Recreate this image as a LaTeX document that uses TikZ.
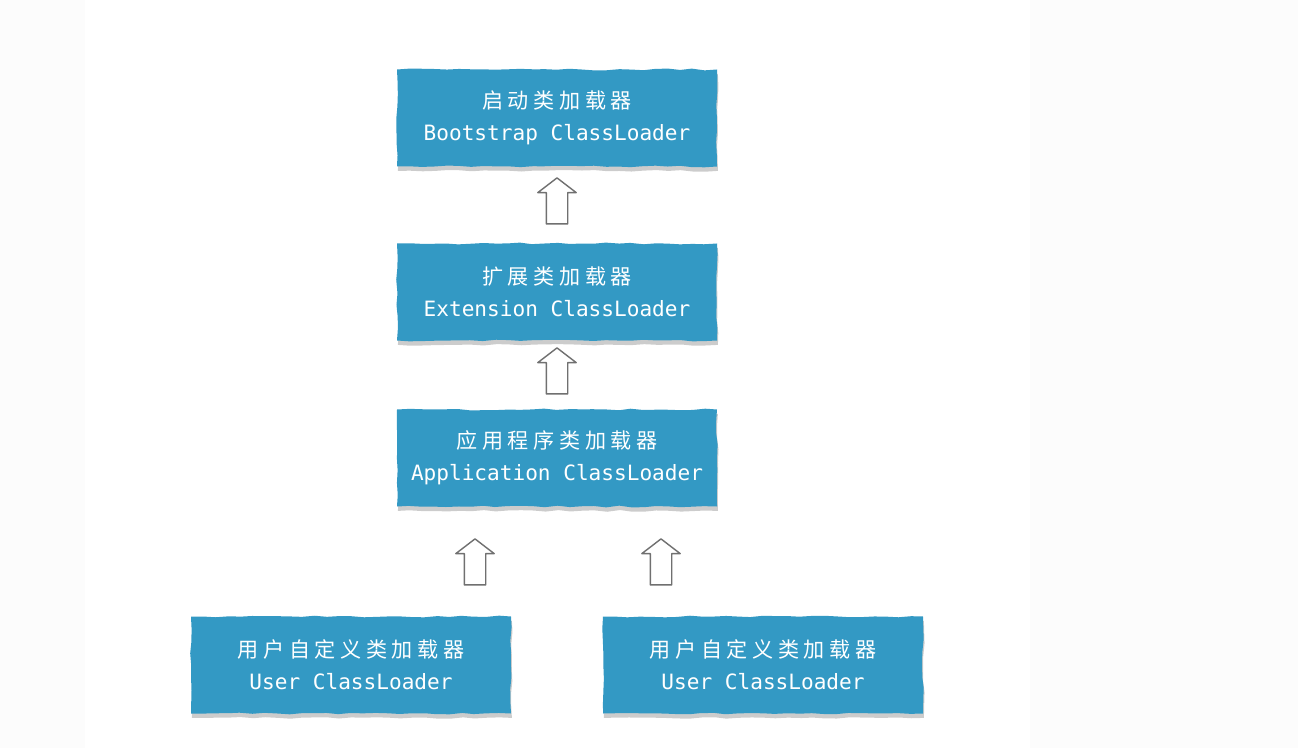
\documentclass[tikz,border=0pt]{standalone}
\usepackage{fontspec}
\setmainfont{DejaVu Sans Mono}
\newfontfamily\cjk[LetterSpace=22]{Noto Sans CJK SC}
\usepackage{tikz}
\usetikzlibrary{shapes.arrows, shadows, decorations.pathmorphing, calc}

\definecolor{loaderblue}{HTML}{3399C4}
\definecolor{arrowgray}{HTML}{707070}
\definecolor{pagegray}{HTML}{FCFCFC}

\tikzset{
  loader/.style={fill=loaderblue, text=white, align=center,
    minimum width=6.4cm, minimum height=1.94cm,
    font=\fontsize{12pt}{18pt}\selectfont,
    decorate, decoration={random steps, segment length=7pt, amplitude=0.5pt},
    drop shadow={shadow xshift=0.5pt, shadow yshift=-2.5pt, opacity=0.2, fill=black}},
  uparrow/.style={single arrow, draw=arrowgray, fill=white, thick, line join=round,
    shape border rotate=90, inner sep=0.2cm,
    minimum height=0.92cm, minimum width=0.74cm,
    single arrow head extend=0.17cm, single arrow tip angle=105},
}

\begin{document}
\begin{tikzpicture}
    \pgfmathsetseed{7}
    \useasboundingbox[fill=pagegray] (0,0) rectangle (25.96,-14.96);
    \fill[white] (1.7,0) rectangle (20.6,-14.96);

    % class loaders
    \node[loader] (boot) at (11.14,-2.36) {{\cjk 启动类加载器}\\Bootstrap ClassLoader};
    \node[loader] (ext) at (11.14,-5.84) {{\cjk 扩展类加载器}\\Extension ClassLoader};
    \node[loader] (app) at (11.14,-9.16) {{\cjk 应用程序类加载器}\\Application ClassLoader};
    \node[loader] (userA) at (7.02,-13.3) {{\cjk 用户自定义类加载器}\\User ClassLoader};
    \node[loader] (userB) at (15.26,-13.3) {{\cjk 用户自定义类加载器}\\User ClassLoader};

    % parent delegation arrows
    \node[uparrow] (upExt) at ($(ext.north)!0.5!(boot.south)$) {};
    \node[uparrow] (upApp) at ($(app.north)!0.5!(ext.south)$) {};
    \node[uparrow] (upUserA) at (9.5,-11.32) {};
    \node[uparrow] (upUserB) at (13.22,-11.32) {};
\end{tikzpicture}
\end{document}
